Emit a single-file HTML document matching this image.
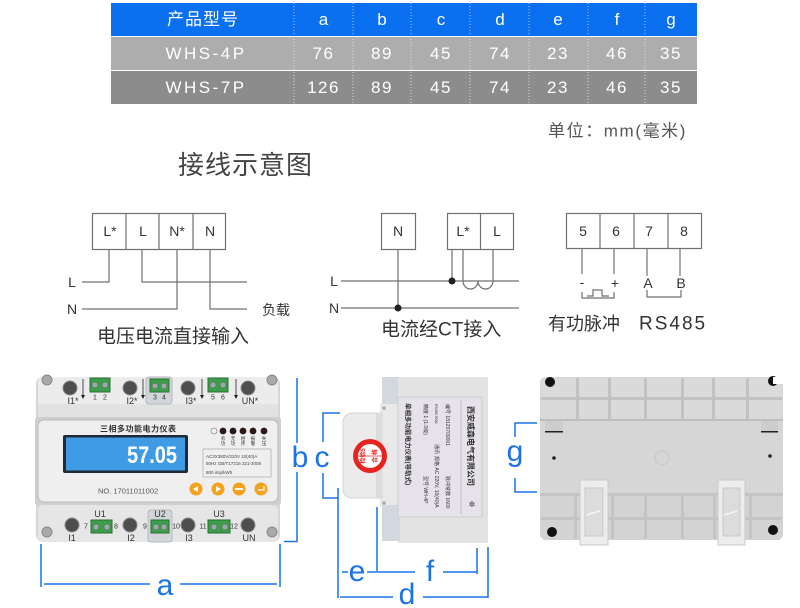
<!DOCTYPE html>
<html><head><meta charset="utf-8">
<style>
html,body{margin:0;padding:0;background:#fff;}
svg{display:block;}
text{font-family:"Liberation Sans","Noto Sans CJK SC",sans-serif;}
.ser{font-family:"Liberation Serif","Noto Serif CJK SC",serif;}
</style></head><body>
<svg width="800" height="608" viewBox="0 0 800 608" xmlns="http://www.w3.org/2000/svg">
<!-- ===== TABLE ===== -->
<rect x="111" y="3" width="586" height="33" fill="#0a70f0"/>
<rect x="111" y="37" width="586" height="33" fill="#adadad"/>
<rect x="111" y="71" width="586" height="33" fill="#8c8c8c"/>
<g stroke="#ffffff" stroke-opacity="0.65" stroke-dasharray="1 2" stroke-width="1">
<line x1="294" y1="3" x2="294" y2="104"/>
<line x1="353" y1="3" x2="353" y2="104"/>
<line x1="411" y1="3" x2="411" y2="104"/>
<line x1="470" y1="3" x2="470" y2="104"/>
<line x1="529" y1="3" x2="529" y2="104"/>
<line x1="588" y1="3" x2="588" y2="104"/>
<line x1="645" y1="3" x2="645" y2="104"/>
</g>
<g fill="#fff" font-size="17" text-anchor="middle" dominant-baseline="central">
<text x="203" y="19.5" letter-spacing="1">产品型号</text>
<text x="323.5" y="19.5">a</text><text x="382" y="19.5">b</text><text x="441" y="19.5">c</text><text x="500" y="19.5">d</text><text x="558" y="19.5">e</text><text x="617" y="19.5">f</text><text x="671" y="19.5">g</text>
<g letter-spacing="1.5">
<text x="206" y="53.5" letter-spacing="2.5">WHS-4P</text>
<text x="323.5" y="53.5">76</text><text x="382" y="53.5">89</text><text x="441" y="53.5">45</text><text x="500" y="53.5">74</text><text x="558" y="53.5">23</text><text x="617" y="53.5">46</text><text x="671" y="53.5">35</text>
<text x="206" y="87.5" letter-spacing="2.5">WHS-7P</text>
<text x="323.5" y="87.5">126</text><text x="382" y="87.5">89</text><text x="441" y="87.5">45</text><text x="500" y="87.5">74</text><text x="558" y="87.5">23</text><text x="617" y="87.5">46</text><text x="671" y="87.5">35</text>
</g>
</g>
<text x="548" y="131" font-size="17" fill="#555" dominant-baseline="central" letter-spacing="1.6">单位：mm(毫米)</text>

<!-- ===== TITLE ===== -->
<text x="178" y="165" font-size="26" fill="#444" dominant-baseline="central" letter-spacing="1">接线示意图</text>

<!-- ===== WIRING 1 ===== -->
<g stroke="#707070" stroke-width="1.2" fill="none">
<rect x="92.5" y="213.5" width="133" height="36"/>
<line x1="126" y1="213.5" x2="126" y2="249.5"/>
<line x1="159" y1="213.5" x2="159" y2="249.5"/>
<line x1="193" y1="213.5" x2="193" y2="249.5"/>
<path d="M109 249.5 V282 H82"/>
<path d="M142 249.5 V282 H247"/>
<path d="M177 249.5 V309 H82"/>
<path d="M210 249.5 V309 H247"/>
</g>
<g font-size="14" fill="#333" text-anchor="middle" dominant-baseline="central">
<text x="110" y="231">L*</text><text x="143" y="231">L</text><text x="177" y="231">N*</text><text x="210" y="231">N</text>
<text x="72" y="282">L</text><text x="72" y="309">N</text>
<text x="276" y="310">负载</text>
</g>
<text x="97" y="337" font-size="19" fill="#333" dominant-baseline="central">电压电流直接输入</text>

<!-- ===== WIRING 2 ===== -->
<g stroke="#707070" stroke-width="1.2" fill="none">
<rect x="381.5" y="213.5" width="34" height="36"/>
<rect x="447.5" y="213.5" width="66" height="36"/>
<line x1="480.5" y1="213.5" x2="480.5" y2="249.5"/>
<line x1="341" y1="281" x2="519" y2="281"/>
<line x1="341" y1="308" x2="519" y2="308"/>
<line x1="398" y1="249.5" x2="398" y2="308"/>
<line x1="452" y1="249.5" x2="452" y2="281"/>
<path d="M463 249.5 V281 A7.5 8 0 0 0 478 281 A7.5 8 0 0 0 493 281 V249.5"/>
</g>
<circle cx="398" cy="308" r="3.5" fill="#222"/>
<circle cx="452" cy="281" r="3.5" fill="#222"/>
<g font-size="14" fill="#333" text-anchor="middle" dominant-baseline="central">
<text x="398" y="231">N</text><text x="463" y="231">L*</text><text x="497" y="231">L</text>
<text x="334" y="281">L</text><text x="334" y="308">N</text>
</g>
<text x="381" y="330" font-size="19" fill="#333" dominant-baseline="central">电流经CT接入</text>

<!-- ===== WIRING 3 ===== -->
<g stroke="#707070" stroke-width="1.2" fill="none">
<rect x="566.5" y="213.5" width="135" height="35"/>
<line x1="600" y1="213.5" x2="600" y2="248.5"/>
<line x1="634" y1="213.5" x2="634" y2="248.5"/>
<line x1="668" y1="213.5" x2="668" y2="248.5"/>
<line x1="582" y1="248.5" x2="582" y2="274"/>
<line x1="614" y1="248.5" x2="614" y2="274"/>
<line x1="647" y1="248.5" x2="647" y2="276"/>
<line x1="680" y1="248.5" x2="680" y2="276"/>
<path d="M582 292 V298 H614 V292"/>
<path d="M587 296 H593 V290 H602 V296 H609"/>
<path d="M647 290 V297 H681 V290"/>
</g>
<g font-size="14" fill="#333" text-anchor="middle" dominant-baseline="central">
<text x="583" y="231">5</text><text x="616" y="231">6</text><text x="649" y="231">7</text><text x="684" y="231">8</text>
<text x="582" y="282">-</text><text x="615" y="283">+</text>
<text x="648" y="283">A</text><text x="681" y="283">B</text>
</g>
<text x="548" y="324" font-size="18" fill="#333" dominant-baseline="central">有功脉冲</text>
<text x="639" y="324" font-size="19" fill="#333" dominant-baseline="central" letter-spacing="2">RS485</text>

<!-- ===== FRONT DEVICE ===== -->
<g>
<rect x="36" y="377" width="244" height="165" rx="7" fill="#d6d6d6"/>
<rect x="38" y="377" width="240" height="41" rx="5" fill="#ececec"/>
<rect x="38" y="404" width="240" height="13" fill="#e2e2e2"/>
<rect x="146" y="377" width="26" height="27" rx="3" fill="#d2d6da" stroke="#b5b9bd"/>
<rect x="35" y="417" width="246" height="88" rx="3" fill="#cfcfcf"/>
<rect x="38" y="420" width="240" height="82" rx="6" fill="#efefef" stroke="#bbbbbb"/>
<rect x="38" y="505" width="240" height="37" rx="5" fill="#e6e6e6"/>
<rect x="148" y="510" width="24" height="32" rx="3" fill="#d2d6da" stroke="#b5b9bd"/>
<!-- corner screws -->
<g fill="#a9a9a9" stroke="#8a8a8a"><circle cx="47" cy="380" r="5"/><circle cx="272" cy="380" r="5"/><circle cx="47" cy="532" r="5"/><circle cx="272" cy="532" r="5"/></g>
<!-- terminals -->
<g fill="#4e4e4e" stroke="#888"><circle cx="70" cy="388" r="7"/><circle cx="130" cy="388" r="7"/><circle cx="188" cy="388" r="7"/><circle cx="248" cy="388" r="7"/>
<circle cx="72" cy="525" r="7"/><circle cx="130" cy="525" r="7"/><circle cx="188" cy="525" r="7"/><circle cx="248" cy="525" r="7"/></g>
<g fill="#3c9e4a" stroke="#2a6e33"><rect x="90" y="378" width="20" height="14"/><rect x="150" y="379" width="19" height="13"/><rect x="208" y="378" width="20" height="14"/>
<rect x="91" y="520" width="21" height="13"/><rect x="151" y="520" width="18" height="13"/><rect x="208" y="520" width="22" height="13"/></g>
<g fill="#9aa" stroke="#555" stroke-width="0.5"><circle cx="95" cy="385" r="3"/><circle cx="105" cy="385" r="3"/><circle cx="155" cy="386" r="3"/><circle cx="164" cy="386" r="3"/><circle cx="213" cy="385" r="3"/><circle cx="223" cy="385" r="3"/>
<circle cx="96" cy="527" r="3"/><circle cx="107" cy="527" r="3"/><circle cx="156" cy="527" r="3"/><circle cx="164" cy="527" r="3"/><circle cx="214" cy="527" r="3"/><circle cx="225" cy="527" r="3"/></g>
<g stroke="#222" stroke-width="0.8"><line x1="83" y1="379" x2="83" y2="397"/><line x1="143" y1="379" x2="143" y2="397"/><line x1="202" y1="379" x2="202" y2="397"/><line x1="236" y1="379" x2="236" y2="397"/></g>
<g fill="#222"><path d="M81 395 L85 395 L83 399Z"/><path d="M141 395 L145 395 L143 399Z"/><path d="M200 395 L204 395 L202 399Z"/><path d="M234 395 L238 395 L236 399Z"/></g>
<g class="ser" font-size="9" fill="#333" text-anchor="middle" dominant-baseline="central">
<text x="73" y="401">I1*</text><text x="132" y="401">I2*</text><text x="191" y="401">I3*</text><text x="250" y="401">UN*</text>
<text x="95" y="398" font-size="7">1</text><text x="105" y="398" font-size="7">2</text>
<text x="155" y="398" font-size="7">3</text><text x="164" y="398" font-size="7">4</text>
<text x="213" y="398" font-size="7">5</text><text x="223" y="398" font-size="7">6</text>
<text x="100" y="514">U1</text><text x="160" y="514">U2</text><text x="219" y="514">U3</text>
<text x="86" y="527" font-size="7">7</text><text x="116" y="527" font-size="7">8</text><text x="145" y="527" font-size="7">9</text><text x="176" y="527" font-size="7">10</text><text x="203" y="527" font-size="7">11</text><text x="234" y="527" font-size="7">12</text>
<text x="72" y="538">I1</text><text x="131" y="538">I2</text><text x="189" y="538">I3</text><text x="249" y="538">UN</text>
</g>
<!-- faceplate -->
<text x="100" y="429" font-size="8" font-weight="bold" fill="#333" dominant-baseline="central" letter-spacing="0.5">三相多功能电力仪表</text>
<rect x="63" y="435" width="125" height="38" rx="2" fill="#1f2a35"/>
<rect x="66" y="437.5" width="119" height="33" fill="#3f9be3"/>
<text x="127" y="463" font-size="24" font-weight="bold" fill="#fff" textLength="50" lengthAdjust="spacingAndGlyphs">57.05</text>
<circle cx="214" cy="431" r="3" fill="none" stroke="#777" stroke-width="0.6"/>
<g fill="#2a1a1a"><circle cx="223" cy="431" r="3.4"/><circle cx="233" cy="431" r="3.4"/><circle cx="243" cy="431" r="3.4"/><circle cx="253" cy="431" r="3.4"/><circle cx="264" cy="431" r="3.4"/></g>
<g font-size="4.5" fill="#333" text-anchor="middle">
<text x="223" y="440">有</text><text x="223" y="445">功</text>
<text x="233" y="440">无</text><text x="233" y="445">功</text>
<text x="243" y="440">相</text><text x="243" y="445">序</text>
<text x="253" y="440">报</text><text x="253" y="445">警</text>
<text x="264" y="440">失</text><text x="264" y="445">压</text>
</g>
<rect x="203" y="449" width="68" height="28" fill="none" stroke="#999" stroke-width="0.6"/>
<g font-size="4.5" fill="#444">
<text x="206" y="458">AC3X380V/220V  10(40)A</text>
<text x="206" y="465">50Hz  GB/T17215 321-2008</text>
<text x="206" y="474">800  imp/kWh</text>
</g>
<text x="98" y="491" font-size="7.5" fill="#555" dominant-baseline="central">NO.  17011011002</text>
<g fill="#f2a21e"><circle cx="196" cy="489" r="6.5"/><circle cx="218" cy="489" r="6.5"/><circle cx="239" cy="489" r="6.5"/><circle cx="261" cy="489" r="6.5"/></g>
<g fill="#fff"><path d="M193 489 L198 486 L198 492Z"/><path d="M221 489 L216 486 L216 492Z"/><rect x="235" y="488" width="8" height="2"/><path d="M258 490 L264 490 L264 486" fill="none" stroke="#fff" stroke-width="1.2"/></g>
</g>

<!-- ===== SIDE DEVICE ===== -->
<g>
<rect x="382" y="377" width="18" height="30" fill="#d3d8de"/>
<rect x="398" y="377" width="90" height="166" fill="#e3e3e3"/>
<rect x="380" y="404" width="20" height="102" fill="#e9e9e9"/>
<circle cx="384" cy="408" r="1.8" fill="#aaa"/><circle cx="384" cy="503" r="1.8" fill="#aaa"/>
<rect x="382" y="505" width="18" height="36" fill="#d3d8de"/>
<path d="M353 413 H382 V498 H353 Q343 498 343 488 V423 Q343 413 353 413Z" fill="#ebebeb" stroke="#d6d6d6"/>
<rect x="376" y="413" width="6" height="85" fill="#dcdcdc"/>
<circle cx="370" cy="456" r="17" fill="#e52420"/>
<circle cx="370" cy="456" r="12" fill="#fff"/>
<line x1="358" y1="456" x2="382" y2="456" stroke="#e52420" stroke-width="0.8"/>
<text transform="translate(365,456) rotate(-90)" font-size="6" fill="#e52420" text-anchor="middle" font-weight="bold">检验5</text>
<text transform="translate(377,456) rotate(-90)" font-size="6" fill="#e52420" text-anchor="middle" font-weight="bold">合 格</text>
<rect x="398" y="397" width="84" height="120" fill="#e6e2ea" stroke="#cfcbd3"/>
<line x1="461" y1="400" x2="461" y2="514" stroke="#999" stroke-width="0.5"/>
<g font-size="5" fill="#333">
<text transform="translate(406,403) rotate(90)" font-size="6.5" font-weight="bold">单相多功能电力仪表(导轨式)</text>
<text transform="translate(424,404) rotate(90)">精度 1 (1.0级)</text>
<text transform="translate(424,476) rotate(90)">型号 WH-4P</text>
<text transform="translate(435,404) rotate(90)" font-size="3.5">RS485 9600</text>
<text transform="translate(435,444) rotate(90)">通讯</text>
<text transform="translate(435,456) rotate(90)">规格 AC 220V, 10(40)A</text>
<text transform="translate(446,404) rotate(90)">编号 18120709001</text>
<text transform="translate(446,476) rotate(90)">脉冲常数 1600</text>
<text transform="translate(468,406) rotate(90)" font-size="8" font-weight="bold">西安威森电气有限公司</text>
</g>
<text x="472" y="507" font-size="8" fill="#333" text-anchor="middle">✲</text>
</g>

<!-- ===== BACK DEVICE ===== -->
<g>
<rect x="540" y="377" width="243" height="163" rx="6" fill="#d3d3d3"/>
<rect x="541" y="378" width="241" height="42" rx="5" fill="#dadada"/>
<g fill="#c2c2c2"><rect x="576" y="378" width="3" height="42"/><rect x="608" y="378" width="3" height="42"/><rect x="644" y="378" width="3" height="42"/><rect x="681" y="378" width="3" height="42"/><rect x="712" y="378" width="3" height="42"/><rect x="746" y="378" width="3" height="42"/><rect x="541" y="397" width="241" height="3"/></g>
<rect x="540" y="419" width="243" height="2" fill="#bdbdbd"/>
<rect x="540" y="421" width="243" height="73" fill="#d6d6d6"/>
<rect x="545" y="421" width="18" height="11" fill="#cdcdcd"/><rect x="545" y="431" width="18" height="1.5" fill="#222"/>
<rect x="761" y="421" width="17" height="11" fill="#cdcdcd"/><rect x="761" y="431" width="17" height="1.5" fill="#222"/>
<circle cx="662" cy="458" r="7" fill="none" stroke="#c6c6c6"/>
<circle cx="554" cy="458" r="1.8" fill="#222"/><circle cx="770" cy="456" r="1.8" fill="#222"/>
<rect x="540" y="493" width="243" height="3" fill="#c4c4c4"/>
<g fill="#c4c4c4"><rect x="574" y="494" width="3" height="45"/><rect x="611" y="494" width="3" height="45"/><rect x="644" y="494" width="3" height="45"/><rect x="681" y="494" width="3" height="45"/><rect x="713" y="494" width="3" height="45"/><rect x="749" y="494" width="3" height="45"/><rect x="541" y="517" width="241" height="3"/></g>
<rect x="580" y="480" width="28" height="65" fill="#ededed" stroke="#c9c9c9"/>
<rect x="585" y="488" width="18" height="48" fill="#dcdcdc" stroke="#c9c9c9"/>
<line x1="586" y1="515" x2="600" y2="511" stroke="#f5f5f5" stroke-width="1.5"/>
<rect x="718" y="480" width="27" height="65" fill="#ededed" stroke="#c9c9c9"/>
<rect x="723" y="488" width="17" height="48" fill="#dcdcdc" stroke="#c9c9c9"/>
<line x1="724" y1="515" x2="737" y2="511" stroke="#f5f5f5" stroke-width="1.5"/>
<g fill="#111"><circle cx="550" cy="382" r="5"/><circle cx="773" cy="381" r="5"/><circle cx="552" cy="532" r="5"/><circle cx="773" cy="530" r="5"/></g>
<rect x="773" y="377" width="10" height="7" fill="#fff"/>
</g>

<!-- ===== DIMENSIONS ===== -->
<g stroke="#1a73e8" stroke-width="1.5" fill="none">
<path d="M297 378 V443"/><path d="M297 472 V541.5 H284"/>
<path d="M41 544 V587"/><path d="M280 544 V587"/>
<path d="M44 584 H150"/><path d="M180 584 H277"/>
<path d="M340 413 H323 V442"/><path d="M323 473 V498 H338"/>
<path d="M338 488 V598"/><path d="M377 507 V573"/><path d="M477 548 V574"/><path d="M488 547 V598"/>
<path d="M342 572 H348"/><path d="M367 572 H376"/>
<path d="M378 572 H415"/><path d="M443 572 H477"/>
<path d="M340 597 H393"/><path d="M423 597 H488"/>
<path d="M537 423 H515 V437"/><path d="M515 478 V492 H537"/>
</g>
<g fill="#1a73e8" font-size="30" text-anchor="middle">
<text x="300" y="467">b</text>
<text x="322" y="467">c</text>
<text x="165" y="595">a</text>
<text x="357" y="581">e</text>
<text x="430" y="581">f</text>
<text x="407" y="604">d</text>
<text x="515" y="461">g</text>
</g>
</svg>
</body></html>
